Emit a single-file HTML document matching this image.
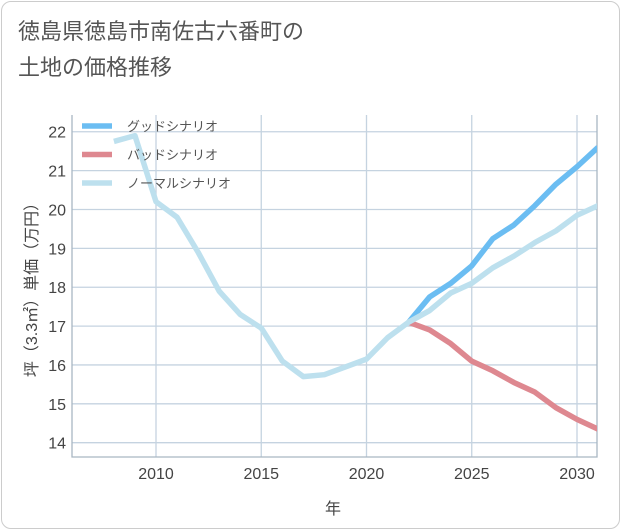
<!DOCTYPE html>
<html><head><meta charset="utf-8"><style>
body{margin:0;background:#fff;font-family:"Liberation Sans","Noto Sans CJK JP",sans-serif;}
#wrap{position:relative;width:621px;height:530px;}
.frame{position:absolute;left:1px;top:1px;width:617px;height:526px;border:1px solid #ccc;border-radius:10px;}
.title{position:absolute;left:18px;top:14px;font-size:22px;line-height:36px;color:#555;}
</style></head><body>
<div id="wrap">
<div class="frame"></div>
<div class="title">徳島県徳島市南佐古六番町の<br>土地の価格推移</div>
<svg id="chart" width="621" height="530" style="position:absolute;left:0;top:0"></svg>
</div>
<script>
const years=[2008,2009,2010,2011,2012,2013,2014,2015,2016,2017,2018,2019,2020,2021,2022,2023,2024,2025,2026,2027,2028,2029,2030,2031];
const normalVals=[21.75,21.9,20.2,19.8,18.9,17.9,17.3,16.95,16.1,15.7,15.75,15.95,16.15,16.7,17.1,17.4,17.85,18.1,18.5,18.8,19.15,19.45,19.85,20.1];
const futYears=[2022,2023,2024,2025,2026,2027,2028,2029,2030,2031];
const goodVals=[17.1,17.75,18.1,18.55,19.25,19.6,20.1,20.65,21.1,21.6];
const badVals=[17.1,16.9,16.55,16.1,15.85,15.55,15.3,14.9,14.6,14.35];
const yTicks=[14,15,16,17,18,19,20,21,22];
const xTicks=[2010,2015,2020,2025,2030];
const seriesNames=["グッドシナリオ","バッドシナリオ","ノーマルシナリオ"];
const seriesColors=["#6bbdf2","#de8890","#bde0ee"];

const svg=document.getElementById('chart');
const NS='http://www.w3.org/2000/svg';
const L=72,R=597,T=115,B=457;
const x=v=>156+(v-2010)*21.05;
const y=v=>442.7-(v-14)*38.87;
function mk(tag,attrs){const e=document.createElementNS(NS,tag);for(const k in attrs)e.setAttribute(k,attrs[k]);svg.appendChild(e);return e;}
const clip=mk('clipPath',{id:'pc'});
const cr=document.createElementNS(NS,'rect');cr.setAttribute('x',L);cr.setAttribute('y',T);cr.setAttribute('width',R-L);cr.setAttribute('height',B-T);clip.appendChild(cr);
yTicks.forEach(v=>{
 const g=mk('line',{x1:L,x2:R,y1:y(v),y2:y(v),stroke:'#c5d3e0','stroke-width':1.3});
 
 
 const t=mk('text',{x:L-6,y:y(v)+6,'text-anchor':'end','font-size':16,fill:'#444'});
 t.textContent=v;
 
 
});
xTicks.forEach(v=>{
 const g=mk('line',{x1:x(v),x2:x(v),y1:T,y2:B,stroke:'#c5d3e0','stroke-width':1.3});
 
 
 const t=mk('text',{x:x(v),y:B+22,'text-anchor':'middle','font-size':16,fill:'#444'});
 t.textContent=v;
 
 
});
const ax=mk('path',{d:`M${L},${T} V${B} H${R} V${T}`,fill:'none',stroke:'#a9b6c2','stroke-width':1.3});


function line(xs,vs,color,name){
 const p=mk('polyline',{points:xs.map((a,i)=>x(a)+','+y(vs[i])).join(' '),fill:'none',stroke:color,'stroke-width':5.5,'stroke-linejoin':'round','clip-path':'url(#pc)'});
 
 
}
line(futYears,badVals,seriesColors[1],'bad-scenario-line');
line(futYears,goodVals,seriesColors[0],'good-scenario-line');
line(years,normalVals,seriesColors[2],'normal-scenario-line');
seriesNames.forEach((n,i)=>{
 const yy=126+i*28.5;
 const s=mk('line',{x1:82,x2:112,y1:yy,y2:yy,stroke:seriesColors[i],'stroke-width':5.5});
 
 
 const t=mk('text',{x:127,y:yy+5,'font-size':13,fill:'#555'});
 t.textContent=n;
 
 
});
const yl=mk('text',{x:0,y:0,'font-size':16,fill:'#444','text-anchor':'middle',transform:'translate(37,286) rotate(-90)'});
yl.textContent='坪（3.3㎡）単価（万円）';


const xl=mk('text',{x:333,y:514,'font-size':16,fill:'#444','text-anchor':'middle'});
xl.textContent='年';


</script>
</body></html>
